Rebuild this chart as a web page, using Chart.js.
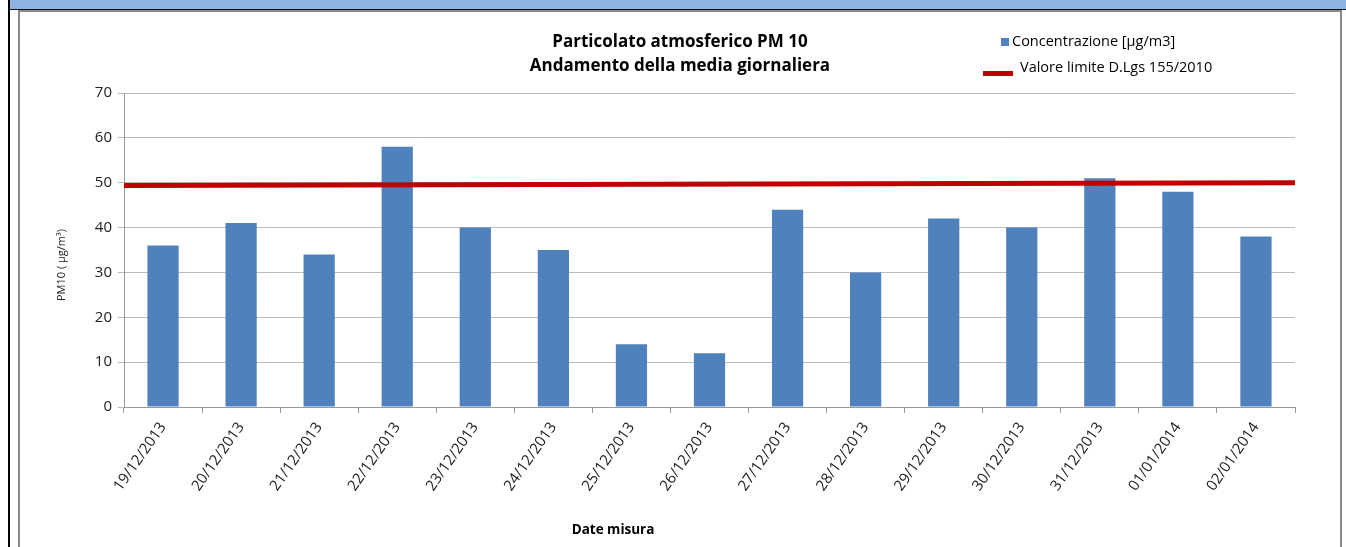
<!DOCTYPE html>
<html><head><meta charset="utf-8">
<script src="https://cdn.jsdelivr.net/npm/chart.js@4"></script>
<style>
html,body{margin:0;padding:0;background:#fff;width:1346px;height:547px;overflow:hidden;}
#hdr{position:absolute;left:10px;top:0;width:1336px;height:9px;background:#8DB3E2;border-bottom:1px solid #111;}
#lb{position:absolute;left:8px;top:0;width:2px;height:547px;background:#000;}
#frame{position:absolute;left:18px;top:10px;width:1324px;height:540px;border:2px solid #888;border-bottom:none;box-sizing:border-box;}
#wrap{position:absolute;left:0;top:0;width:1346px;height:547px;}
</style></head>
<body>
<div id="hdr"></div><div id="lb"></div><div id="frame"></div>
<div id="wrap"><canvas id="c" width="1346" height="547"></canvas></div>
<script>
const categories = ["19/12/2013","20/12/2013","21/12/2013","22/12/2013","23/12/2013","24/12/2013","25/12/2013","26/12/2013","27/12/2013","28/12/2013","29/12/2013","30/12/2013","31/12/2013","01/01/2014","02/01/2014"];
const concentrazione = [36,41,34,58,40,35,14,12,44,30,42,40,51,48,38];
const limitX = [0, 15];
const limitValues = [49.4, 50.0];
const yTicks = [0,10,20,30,40,50,60,70];
const titleLines = ["Particolato atmosferico PM 10","Andamento della media giornaliera"];
const seriesNames = ["Concentrazione [µg/m3]","Valore limite D.Lgs 155/2010"];
const yTitle = "PM10 ( µg/m³)";
const xTitle = "Date misura";

const FONT = "'Open Sans', 'Liberation Sans', sans-serif";

const overlay = {
  id:'overlay',
  afterDraw(chart){
    const ctx = chart.ctx;
    ctx.save();
    ctx.fillStyle = '#000';
    ctx.textAlign = 'center';
    ctx.textBaseline = 'middle';
    ctx.font = "bold 17px " + FONT;
    ctx.fillText(titleLines[0], 680, 42);
    ctx.fillText(titleLines[1], 680, 66);
    // legend
    ctx.textAlign = 'left';
    ctx.font = "14.5px " + FONT;
    ctx.fillStyle = '#4F81BD';
    ctx.fillRect(1001, 38, 8, 8);
    ctx.fillStyle = '#000';
    ctx.fillText(seriesNames[0], 1012, 42);
    ctx.fillStyle = '#C00000';
    ctx.fillRect(983, 71, 30, 5);
    ctx.fillStyle = '#000';
    ctx.fillText(seriesNames[1], 1020, 68);
    // y title
    ctx.save();
    ctx.translate(62, 265);
    ctx.rotate(-Math.PI/2);
    ctx.textAlign = 'center';
    ctx.font = "11px " + FONT;
    ctx.fillStyle = '#222';
    ctx.fillText(yTitle, 0, 0);
    ctx.restore();
    // x title
    ctx.textAlign = 'center';
    ctx.font = "bold 13.5px " + FONT;
    ctx.fillText(xTitle, 613, 530);
    ctx.restore();
  }
};

new Chart(document.getElementById('c'), {
  type:'bar',
  data: {
    labels: categories,
    datasets: [
      { type:'line', label: seriesNames[1], xAxisID:'x2',
        data: limitX.map((x,i)=>({x:x, y:limitValues[i]})),
        borderColor:'#C00000', borderWidth:5, pointRadius:0, fill:false, order:0, tension:0 },
      { type:'bar', label: seriesNames[0], data: concentrazione, xAxisID:'x', grouped:false,
        backgroundColor:'#4F81BD', borderWidth:0, barPercentage:0.4, categoryPercentage:1.0, order:1 }
    ]
  },
  options: {
    responsive:false, animation:false, devicePixelRatio:1,
    layout:{ padding:{ left:0, right:51, top:93, bottom:0 } },
    plugins:{ legend:{display:false}, tooltip:{enabled:false}, title:{display:false} },
    scales:{
      x:{ type:'category', offset:true,
        grid:{ display:true, drawOnChartArea:false, drawTicks:true, tickLength:6, color:'#999', offset:true },
        border:{ display:true, color:'#999' },
        ticks:{ minRotation:55, maxRotation:55, color:'#222', font:{ family:FONT, size:15 }, padding:6, autoSkip:false },
        afterFit(s){ s.height = 140; }
      },
      x2:{ type:'linear', display:false, min:0, max:15, offset:false, grid:{offset:false} },
      y:{ min:0, max:70, afterBuildTicks(s){ s.ticks = yTicks.map(v=>({value:v})); },
        grid:{ color:'#BBBBBB', tickLength:6, drawTicks:true },
        border:{ display:true, color:'#999' },
        ticks:{ color:'#222', font:{ family:FONT, size:15 }, padding:6 },
        afterFit(s){ s.width = 124; }
      }
    }
  },
  plugins:[overlay]
});
</script>
</body></html>
